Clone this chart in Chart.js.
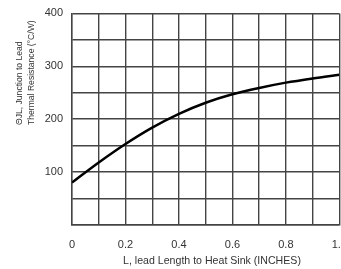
<!DOCTYPE html>
<html>
<head>
<meta charset="utf-8">
<script src="https://cdn.jsdelivr.net/npm/chart.js@4/dist/chart.umd.min.js"></script>
<style>
  html, body { margin: 0; padding: 0; background: #fff; overflow: hidden; }
  #wrap { position: relative; width: 361px; height: 269px; }
</style>
</head>
<body>
<div id="wrap"><canvas id="chart"></canvas></div>
<script>
const leadLength = [0, 0.1, 0.2, 0.3, 0.4, 0.5, 0.6, 0.7, 0.8, 0.9, 1.0];
const thermalRes = [80, 118, 153, 184, 210, 231, 247, 259, 269, 277, 284];
const yTitleLines = ['\u0398JL, Junction to Lead', 'Thermal Resistance (\u00b0C/W)'];
const xTitle = 'L, lead Length to Heat Sink (INCHES)';

const gridColor = '#444';
const textColor = '#333';

// axis titles drawn by hand so the two y lines start at the same point
const axisTitles = {
  id: 'axisTitles',
  afterDraw(chart) {
    const ctx = chart.ctx;
    ctx.save();
    ctx.fillStyle = textColor;
    ctx.font = '8.6px "Liberation Sans", Arial, sans-serif';
    ctx.textBaseline = 'middle';
    ctx.textAlign = 'left';
    const lineX = [20, 32];
    for (let i = 0; i < yTitleLines.length; i++) {
      ctx.save();
      ctx.translate(lineX[i], 125);
      ctx.rotate(-Math.PI / 2);
      ctx.fillText(yTitleLines[i], 0, 0);
      ctx.restore();
    }
    ctx.restore();

    ctx.save();
    ctx.fillStyle = textColor;
    ctx.font = '10.6px "Liberation Sans", Arial, sans-serif';
    ctx.textAlign = 'center';
    ctx.textBaseline = 'middle';
    ctx.fillText(xTitle, 212, 261);
    ctx.restore();
  }
};

new Chart(document.getElementById('chart'), {
  type: 'line',
  data: {
    datasets: [{
      data: leadLength.map((x, i) => ({ x: x, y: thermalRes[i] })),
      borderColor: '#000',
      borderWidth: 2.5,
      pointRadius: 0,
      fill: false,
      cubicInterpolationMode: 'monotone'
    }]
  },
  options: {
    responsive: true,
    maintainAspectRatio: false,
    animation: false,
    layout: { padding: { top: 0, bottom: 3, left: 0, right: 0 } },
    plugins: { legend: { display: false }, tooltip: { enabled: false } },
    scales: {
      x: {
        type: 'linear',
        min: 0,
        max: 1,
        ticks: {
          stepSize: 0.1,
          padding: 14,
          maxRotation: 0,
          autoSkip: false,
          color: textColor,
          font: { family: '"Liberation Sans", Arial, sans-serif', size: 11 },
          callback: (v) => {
            const k = Math.round(v * 10);
            if (k % 2 !== 0) return '';
            return k === 0 ? '0' : (k / 10).toFixed(1);
          }
        },
        grid: { color: gridColor, lineWidth: 1.4, drawTicks: false },
        border: { color: gridColor, width: 1.4 }
      },
      y: {
        min: 0,
        max: 400,
        afterFit: (scale) => { scale.width = 72; },
        ticks: {
          stepSize: 50,
          padding: 9,
          color: textColor,
          font: { family: '"Liberation Sans", Arial, sans-serif', size: 11, lineHeight: 0.8 },
          callback: (v) => (v !== 0 && v % 100 === 0) ? String(v) : ''
        },
        grid: { color: gridColor, lineWidth: 1.4, drawTicks: false },
        border: { color: gridColor, width: 1.4 }
      }
    }
  },
  plugins: [axisTitles]
});
</script>
</body>
</html>
